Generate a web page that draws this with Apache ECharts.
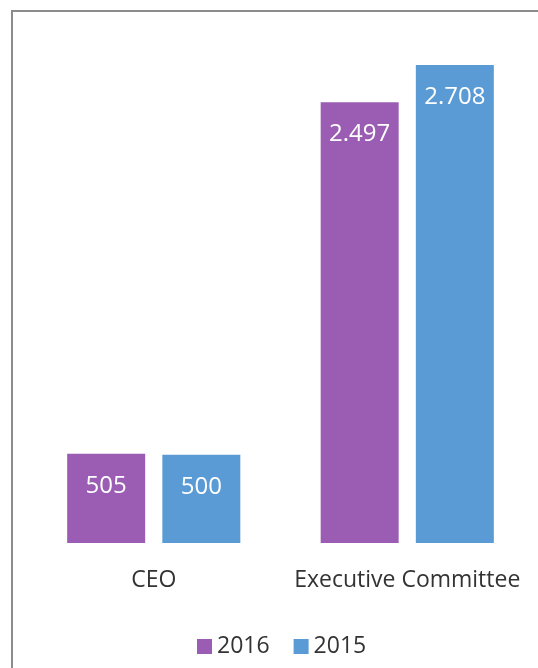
<!DOCTYPE html>
<html>
<head>
<meta charset="utf-8">
<script src="https://cdn.jsdelivr.net/npm/echarts@6/dist/echarts.min.js"></script>
<style>
  html, body { margin: 0; padding: 0; background: #fff; }
  #chart { width: 538px; height: 668px; }
</style>
</head>
<body>
<div id="chart"></div>
<script>
const categories = ["CEO", "Executive Committee"];
const values2016 = [505, 2497];
const values2015 = [500, 2708];
const seriesNames = ["2016", "2015"];

const fmt = (v) => String(v).replace(/\B(?=(\d{3})+(?!\d))/g, ".");

const labelStyle = {
  show: true,
  position: "insideTop",
  distance: 20,
  color: "#fff",
  fontSize: 24,
  fontFamily: "Open Sans",
  formatter: (p) => fmt(p.value),
};

const option = {
  animation: false,
  textStyle: { fontFamily: "Open Sans" },
  grid: { left: 27, right: 4, top: 65, bottom: 125 },
  legend: {
    data: seriesNames,
    left: 192,
    top: 630,
    icon: "rect",
    itemWidth: 15,
    itemHeight: 15,
    itemGap: 24,
    textStyle: { fontSize: 23, color: "#333", fontFamily: "Open Sans" },
  },
  xAxis: {
    type: "category",
    data: categories,
    axisLine: { show: false },
    axisTick: { show: false },
    axisLabel: {
      interval: 0,
      hideOverlap: false,
      fontSize: 23,
      color: "#333",
      margin: 26,
    },
  },
  yAxis: {
    type: "value",
    min: 0,
    max: 2708,
    show: false,
    splitLine: { show: false },
  },
  series: [
    {
      name: seriesNames[0],
      type: "bar",
      barWidth: 78,
      barGap: "22%",
      data: values2016,
      itemStyle: { color: "#9b5db3" },
      label: labelStyle,
    },
    {
      name: seriesNames[1],
      type: "bar",
      barWidth: 78,
      data: values2015,
      itemStyle: { color: "#5b9bd5" },
      label: labelStyle,
    },
  ],
  graphic: [
    {
      type: "polyline",
      shape: { points: [[12, 668], [12, 11], [538, 11]] },
      style: { stroke: "#8c8c8c", lineWidth: 2, fill: null },
    },
  ],
};

const myChart = echarts.init(document.getElementById("chart"));
myChart.setOption(option);
</script>
</body>
</html>
